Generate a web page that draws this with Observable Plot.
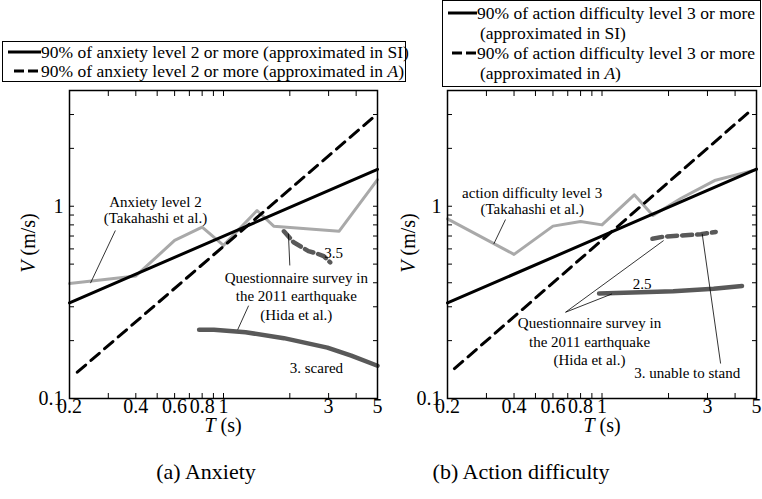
<!DOCTYPE html>
<html><head><meta charset="utf-8">
<script src="https://cdn.jsdelivr.net/npm/d3@7"></script>
<script src="https://cdn.jsdelivr.net/npm/@observablehq/plot@0.6"></script>
<style>
body{margin:0;background:#fff;font-family:"Liberation Serif","Times New Roman",serif;}
#wrap{position:relative;width:762px;height:499px;overflow:hidden;background:#fff;}
#wrap svg text{font-family:"Liberation Serif","Times New Roman",serif;}
.abs{position:absolute;white-space:nowrap;color:#000;}
.box{position:absolute;border:1px solid #000;box-sizing:border-box;}
svg.plt{position:absolute;top:0;}
</style></head><body><div id="wrap"></div>
<script>
// ---------- axis ticks ----------
const xTicks = [0.2,0.3,0.4,0.5,0.6,0.7,0.8,0.9,1,2,3,4,5];
const xTickLabels = [0.2,0.4,0.6,0.8,1,3,5];
const yTicks = [0.1,0.2,0.3,0.4,0.5,0.6,0.7,0.8,0.9,1,2,3,4];
const yTickLabels = [0.1,1];

// ---------- panel (a) Anxiety ----------
const aSiT = [0.2, 5];            const aSiV = [0.314, 1.556];
const aAT  = [0.217, 4.95];       const aAV  = [0.137, 3.0];
const aTakT = [0.2, 0.4, 0.6, 0.8, 1.0, 1.42, 1.69, 3.35, 5];
const aTakV = [0.396, 0.434, 0.664, 0.778, 0.626, 0.95, 0.788, 0.742, 1.375];
const aHida35T = [1.88, 2.08, 2.27, 2.43, 2.65, 2.85, 3.05];
const aHida35V = [0.741, 0.65, 0.612, 0.584, 0.568, 0.55, 0.51];
const aHida3T = [0.775, 0.905, 1.26, 1.88, 2.96, 3.8, 5];
const aHida3V = [0.228, 0.228, 0.221, 0.206, 0.184, 0.167, 0.148];
const aLeadT1 = [0.323, 1.97, 1.30]; const aLeadV1 = [0.748, 0.721, 0.304];
const aLeadT2 = [0.249, 2.0, 1.16];  const aLeadV2 = [0.398, 0.492, 0.228];
const aLabels = ["Anxiety level 2\n(Takahashi et al.)", "3.5", "Questionnaire survey in\nthe 2011 earthquake\n(Hida et al.)", "3. scared"];
const aLabelT = [0.491, 3.16, 2.14, 2.64];
const aLabelV = [0.96, 0.569, 0.343, 0.144];
const aLabelLH = [1.1, 1, 1.22, 1];

// ---------- panel (b) Action difficulty ----------
const bSiT = [0.2, 5];            const bSiV = [0.314, 1.56];
const bAT  = [0.215, 4.7];        const bAV  = [0.143, 3.14];
const bTakT = [0.2, 0.4, 0.6, 0.8, 1.0, 1.4, 1.7, 2.28, 3.23, 5];
const bTakV = [0.86, 0.562, 0.788, 0.833, 0.80, 1.146, 0.895, 1.10, 1.36, 1.55];
const bHidaDT = [1.69, 1.9, 2.3, 2.8, 3.27];
const bHidaDV = [0.677, 0.695, 0.705, 0.715, 0.735];
const bHida25T = [0.97, 1.5, 2.1, 3.2, 4.3];
const bHida25V = [0.352, 0.357, 0.361, 0.372, 0.385];
const bLeadT1 = [0.366, 0.684, 0.684, 2.84]; const bLeadV1 = [0.853, 0.281, 0.281, 0.719];
const bLeadT2 = [0.324, 1.90, 1.11, 3.44];   const bLeadV2 = [0.637, 0.663, 0.35, 0.152];
const bLabels = ["action difficulty level 3\n(Takahashi et al.)", "2.5", "Questionnaire survey in\nthe 2011 earthquake\n(Hida et al.)", "3. unable to stand"];
const bLabelT = [0.483, 1.52, 0.878, 2.43];
const bLabelV = [1.07, 0.395, 0.2, 0.136];
const bLabelLH = [1.1, 1, 1.25, 1];

const LIGHT = "#a9a9a9", DARK = "#595959";
const FONT = "Liberation Serif, Times New Roman, serif";
const pts = (T, V) => T.map((t, i) => ({T: t, V: V[i]}));
const links = (T1, V1, T2, V2) => T1.map((t, i) => ({T1: t, V1: V1[i], T2: T2[i], V2: V2[i]}));
const labels = (txt, T, V, LH) => txt.map((s, i) => ({s, T: T[i], V: V[i], lh: LH[i]}));

function panel(cfg) {
  const lab = labels(cfg.labels, cfg.labelT, cfg.labelV, cfg.labelLH);
  const textMarks = lab.map(d => Plot.text([d], {x: "T", y: "V", text: "s", fontSize: 15, fontFamily: FONT, lineHeight: d.lh, textAnchor: "middle", lineAnchor: "middle", fill: "#000"}));
  return Plot.plot({
    width: 381, height: 440,
    marginLeft: cfg.ml, marginRight: cfg.mr, marginTop: 90, marginBottom: 42,
    x: {type: "log", domain: [0.2, 5]},
    y: {type: "log", domain: [0.1, 4]},
    style: {fontFamily: FONT, background: "transparent", overflow: "visible"},
    marks: [
      Plot.axisX(xTicks, {anchor: "bottom", tickSize: -5, tickFormat: () => "", label: null}),
      Plot.axisX(xTicks, {anchor: "top", tickSize: -5, tickFormat: () => "", label: null}),
      Plot.axisY(yTicks, {anchor: "left", tickSize: -5, tickFormat: () => "", label: null}),
      Plot.axisY(yTicks, {anchor: "right", tickSize: -5, tickFormat: () => "", label: null}),
      Plot.text(xTickLabels, {x: d => d, frameAnchor: "bottom", lineAnchor: "top", dy: 0, fontSize: 20, fontFamily: FONT, text: d => String(d), fill: "#000"}),
      Plot.text(yTickLabels, {y: d => d, frameAnchor: "left", textAnchor: "end", dx: -6, fontSize: 20, fontFamily: FONT, text: d => String(d), fill: "#000"}),
      Plot.line(pts(cfg.takT, cfg.takV), {x: "T", y: "V", stroke: LIGHT, strokeWidth: 3}),
      Plot.line(pts(cfg.h1T, cfg.h1V), {x: "T", y: "V", stroke: DARK, strokeWidth: 4.5, strokeDasharray: cfg.h1dash}),
      Plot.line(pts(cfg.h2T, cfg.h2V), {x: "T", y: "V", stroke: DARK, strokeWidth: 4.5}),
      Plot.line(pts(cfg.siT, cfg.siV), {x: "T", y: "V", stroke: "#000", strokeWidth: 3}),
      Plot.line(pts(cfg.aT, cfg.aV), {x: "T", y: "V", stroke: "#000", strokeWidth: 3, strokeDasharray: "11,7"}),
      Plot.link(links(cfg.l1T, cfg.l1V, cfg.l2T, cfg.l2V), {x1: "T1", y1: "V1", x2: "T2", y2: "V2", stroke: "#000", strokeWidth: 0.8}),
      ...textMarks,
      Plot.frame({stroke: "#000", strokeWidth: 1.5})
    ]
  });
}

const wrap = document.getElementById("wrap");
const svgA = panel({ml: 69, mr: 4, siT: aSiT, siV: aSiV, aT: aAT, aV: aAV, takT: aTakT, takV: aTakV,
  h1T: aHida35T, h1V: aHida35V, h1dash: "9,5", h2T: aHida3T, h2V: aHida3V,
  l1T: aLeadT1, l1V: aLeadV1, l2T: aLeadT2, l2V: aLeadV2,
  labels: aLabels, labelT: aLabelT, labelV: aLabelV, labelLH: aLabelLH});
svgA.classList.add("plt"); svgA.style.left = "0px";
wrap.appendChild(svgA);
const svgB = panel({ml: 66, mr: 6, siT: bSiT, siV: bSiV, aT: bAT, aV: bAV, takT: bTakT, takV: bTakV,
  h1T: bHidaDT, h1V: bHidaDV, h1dash: "10,5", h2T: bHida25T, h2V: bHida25V,
  l1T: bLeadT1, l1V: bLeadV1, l2T: bLeadT2, l2V: bLeadV2,
  labels: bLabels, labelT: bLabelT, labelV: bLabelV, labelLH: bLabelLH});
svgB.classList.add("plt"); svgB.style.left = "381px";
wrap.appendChild(svgB);

// ---------- HTML text: legends, axis titles, captions ----------
function addDiv(html, css) {
  const d = document.createElement("div");
  d.className = "abs"; d.innerHTML = html;
  Object.assign(d.style, css);
  wrap.appendChild(d); return d;
}
function addBox(l, t, w, h) {
  const d = document.createElement("div");
  d.className = "box";
  Object.assign(d.style, {left: l + "px", top: t + "px", width: w + "px", height: h + "px"});
  wrap.appendChild(d);
}
function sample(x1, x2, y, dashed) {
  const ns = "http://www.w3.org/2000/svg";
  const s = document.createElementNS(ns, "svg");
  s.setAttribute("width", x2 - x1); s.setAttribute("height", 6);
  Object.assign(s.style, {position: "absolute", left: x1 + "px", top: (y - 3) + "px"});
  const ln = document.createElementNS(ns, "line");
  ln.setAttribute("x1", 0); ln.setAttribute("x2", x2 - x1); ln.setAttribute("y1", 3); ln.setAttribute("y2", 3);
  ln.setAttribute("stroke", "#000"); ln.setAttribute("stroke-width", 3);
  if (dashed) ln.setAttribute("stroke-dasharray", "10,4");
  s.appendChild(ln); wrap.appendChild(s);
}
const legA = ["90% of anxiety level 2 or more (approximated in SI)", "90% of anxiety level 2 or more (approximated in <i>A</i>)"];
const legB = ["90% of action difficulty level 3 or more", "(approximated in SI)", "90% of action difficulty level 3 or more", "(approximated in <i>A</i>)"];
const LF = {fontSize: "17.5px", lineHeight: "20px"};

addBox(2, 41, 404, 41);
sample(8, 41, 52, false);
addDiv(legA[0], {...LF, left: "41px", top: "42px"});
sample(14, 41, 71, true);
addDiv(legA[1], {...LF, left: "41px", top: "61px"});

addBox(442, 0, 319, 87);
sample(448, 477, 13, false);
addDiv(legB[0], {...LF, left: "477px", top: "3px"});
addDiv(legB[1], {...LF, left: "480px", top: "23px"});
sample(452, 477, 53, true);
addDiv(legB[2], {...LF, left: "477px", top: "43px"});
addDiv(legB[3], {...LF, left: "480px", top: "63px"});

const AX = {fontSize: "20px", lineHeight: "24px"};
addDiv("<i>T</i> (s)", {...AX, left: "223px", top: "413px", transform: "translateX(-50%)"});
addDiv("<i>T</i> (s)", {...AX, left: "602px", top: "413px", transform: "translateX(-50%)"});
addDiv("<i>V</i> (m/s)", {...AX, left: "28px", top: "243px", transform: "translate(-50%,-50%) rotate(-90deg)"});
addDiv("<i>V</i> (m/s)", {...AX, left: "408px", top: "243px", transform: "translate(-50%,-50%) rotate(-90deg)"});

const CF = {fontSize: "22px", lineHeight: "26px"};
addDiv("(a) Anxiety", {...CF, left: "206px", top: "459px", transform: "translateX(-50%)"});
addDiv("(b) Action difficulty", {...CF, left: "521px", top: "459px", transform: "translateX(-50%)"});
</script></body></html>
